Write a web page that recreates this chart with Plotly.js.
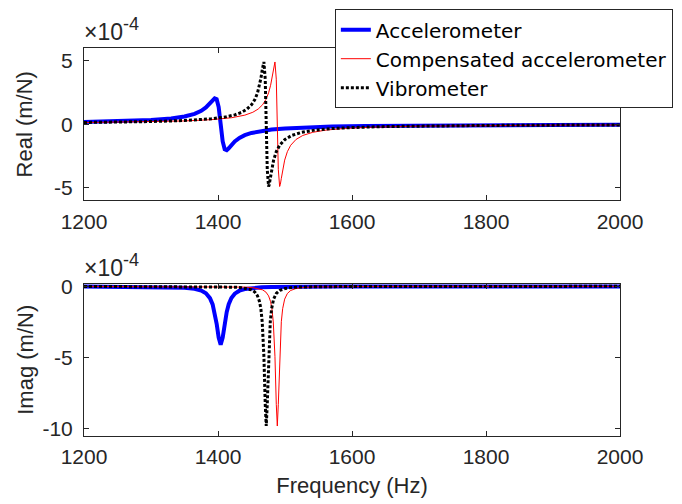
<!DOCTYPE html>
<html>
<head>
<meta charset="utf-8">
<script src="https://cdn.plot.ly/plotly-3.0.1.min.js"></script>
<style>html,body{margin:0;padding:0;background:#fff;}#chart{width:682px;height:504px;}</style>
</head>
<body>
<div id="chart"></div>
<script>
// Values in units of 1e-4 m/N (as labelled on the axes)
const seriesNames = ['Accelerometer', 'Compensated accelerometer', 'Vibrometer'];

const accFreq = [1200,1250,1300,1330,1350,1365,1375,1382,1388,1392,1395,1398,1401,1404,1407,1410,1413,1416,1420,1425,1432,1440,1450,1465,1480,1500,1530,1570,1620,1700,1800,1900,2000];
const accReal = [0.173,0.225,0.325,0.450,0.606,0.818,1.061,1.325,1.646,1.896,2.037,1.967,1.347,0,-1.349,-1.969,-2.035,-1.889,-1.634,-1.357,-1.074,-0.858,-0.682,-0.518,-0.416,-0.328,-0.248,-0.186,-0.141,-0.100,-0.073,-0.056,-0.045];
const accImag = [-0.007,-0.012,-0.026,-0.050,-0.092,-0.170,-0.296,-0.486,-0.828,-1.269,-1.816,-2.628,-3.595,-4.1,-3.594,-2.620,-1.803,-1.254,-0.813,-0.513,-0.304,-0.188,-0.117,-0.067,-0.043,-0.026,-0.015,-0.009,-0.005,-0.002,-0.001,-0.001,-0.001];

const compFreq = [1200,1250,1300,1350,1390,1420,1440,1452,1460,1466.5,1471.5,1475.5,1478.5,1480.5,1482.5,1484,1485,1487,1488.5,1490,1492,1493,1494.5,1496.5,1499.5,1503.5,1508.5,1516.5,1526.5,1541.5,1561.5,1590,1630,1700,1800,1900,2000];
const compReal = [0.132,0.156,0.194,0.260,0.360,0.511,0.715,0.943,1.197,1.531,1.946,2.470,3.064,3.605,4.269,4.751,4.900,3.547,0,-3.550,-4.900,-4.748,-4.262,-3.592,-2.823,-2.159,-1.653,-1.195,-0.884,-0.633,-0.458,-0.326,-0.231,-0.151,-0.100,-0.073,-0.057];
const compImag = [-0.002,-0.002,-0.004,-0.007,-0.013,-0.027,-0.053,-0.092,-0.148,-0.245,-0.403,-0.668,-1.076,-1.582,-2.495,-3.701,-4.906,-8.281,-9.8,-8.278,-4.906,-3.687,-2.481,-1.567,-0.895,-0.501,-0.287,-0.148,-0.080,-0.041,-0.021,-0.011,-0.006,-0.002,-0.001,-0.001,0];

const vibFreq = [1200,1250,1300,1350,1390,1410,1425,1435,1443,1450,1455,1459,1462,1464,1466,1467.5,1468.5,1470.5,1472,1473.5,1475.5,1476.5,1478,1480,1483,1487,1492,1500,1510,1525,1545,1570,1600,1650,1700,1800,1900,2000];
const vibReal = [0.139,0.167,0.212,0.293,0.430,0.563,0.738,0.930,1.177,1.531,1.946,2.470,3.064,3.605,4.269,4.751,4.900,3.547,0,-3.550,-4.900,-4.748,-4.262,-3.592,-2.823,-2.159,-1.653,-1.195,-0.884,-0.633,-0.458,-0.338,-0.257,-0.182,-0.140,-0.094,-0.070,-0.055];
const vibImag = [-0.002,-0.003,-0.005,-0.009,-0.019,-0.033,-0.056,-0.089,-0.144,-0.245,-0.403,-0.668,-1.076,-1.582,-2.495,-3.701,-4.906,-8.281,-9.8,-8.278,-4.906,-3.687,-2.481,-1.567,-0.895,-0.501,-0.287,-0.148,-0.080,-0.041,-0.021,-0.012,-0.007,-0.003,-0.002,-0.001,-0.001,0];

const xTicks = [1200,1400,1600,1800,2000];
const realTicks = [-5,0,5];
const realTickText = ['-5','0','5'];
const imagTicks = [-10,-5,0];
const imagTickText = ['-10','-5','0'];

const FONT = 'Liberation Sans, Arial, Helvetica, sans-serif';
const LEGFONT = 'DejaVu Sans, Liberation Sans, Arial, sans-serif';
const AX = '#262626';

const accLine = {color:'#0000ff', width:4};
const compLine = {color:'#ff0000', width:1};
const vibLine = {color:'#000000', width:3, dash:'3px,2px'};

const traces = [
  {x:accFreq, y:accReal, xaxis:'x', yaxis:'y', mode:'lines', name:seriesNames[0], line:accLine, legendgroup:'a'},
  {x:compFreq, y:compReal, xaxis:'x', yaxis:'y', mode:'lines', name:seriesNames[1], line:compLine, legendgroup:'c'},
  {x:vibFreq, y:vibReal, xaxis:'x', yaxis:'y', mode:'lines', name:seriesNames[2], line:vibLine, legendgroup:'v'},
  {x:accFreq, y:accImag, xaxis:'x2', yaxis:'y2', mode:'lines', name:seriesNames[0], line:accLine, legendgroup:'a', showlegend:false},
  {x:compFreq, y:compImag, xaxis:'x2', yaxis:'y2', mode:'lines', name:seriesNames[1], line:compLine, legendgroup:'c', showlegend:false},
  {x:vibFreq, y:vibImag, xaxis:'x2', yaxis:'y2', mode:'lines', name:seriesNames[2], line:vibLine, legendgroup:'v', showlegend:false}
];

function xax(extra){
  return Object.assign({
    range:[1200,2000], tickvals:xTicks, ticktext:xTicks.map(String),
    showline:true, mirror:'ticks', linecolor:AX, linewidth:1,
    ticks:'inside', ticklen:5, tickcolor:AX, tickwidth:1,
    showgrid:false, zeroline:false, automargin:false,
    tickfont:{family:FONT, size:21, color:AX}, ticklabelstandoff:2
  }, extra);
}
function yax(extra){
  return Object.assign({
    showline:true, mirror:'ticks', linecolor:AX, linewidth:1,
    ticks:'inside', ticklen:5, tickcolor:AX, tickwidth:1,
    showgrid:false, zeroline:false, automargin:false,
    tickfont:{family:FONT, size:21, color:AX}, ticklabelstandoff:6
  }, extra);
}

const expText = '×10<sup><span style="font-size:18px">-4</span></sup>';

const layout = {
  width:682, height:504,
  margin:{l:84, r:62, t:48, b:68, autoexpand:false},
  paper_bgcolor:'#ffffff', plot_bgcolor:'#ffffff',
  font:{family:FONT, color:AX},
  showlegend:true,
  legend:{x:0.468, y:1.1, xanchor:'left', yanchor:'top',
          bgcolor:'#ffffff', bordercolor:AX, borderwidth:1,
          font:{family:LEGFONT, size:20, color:'#000000'}, tracegroupgap:0},
  xaxis: xax({anchor:'y', domain:[0,1]}),
  yaxis: yax({anchor:'x', domain:[0.607,1], range:[-6,6], tickvals:realTicks, ticktext:realTickText,
              title:{text:'Real (m/N)', font:{family:FONT, size:22, color:AX}, standoff:15}}),
  xaxis2: xax({anchor:'y2', domain:[0,1],
              title:{text:'Frequency (Hz)', font:{family:FONT, size:22, color:AX}, standoff:10}}),
  yaxis2: yax({anchor:'x2', domain:[0,0.393], range:[-10.5,0.2], tickvals:imagTicks, ticktext:imagTickText,
              title:{text:'Imag (m/N)', font:{family:FONT, size:22, color:AX}, standoff:2}}),
  annotations:[
    {xref:'paper', yref:'paper', x:0, y:1, xanchor:'left', yanchor:'bottom', yshift:1, xshift:-2,
     text:expText, showarrow:false, font:{family:FONT, size:23, color:AX}},
    {xref:'paper', yref:'paper', x:0, y:0.393, xanchor:'left', yanchor:'bottom', yshift:1, xshift:-2,
     text:expText, showarrow:false, font:{family:FONT, size:23, color:AX}}
  ]
};

Plotly.newPlot('chart', traces, layout, {displayModeBar:false, staticPlot:true});
</script>
</body>
</html>
